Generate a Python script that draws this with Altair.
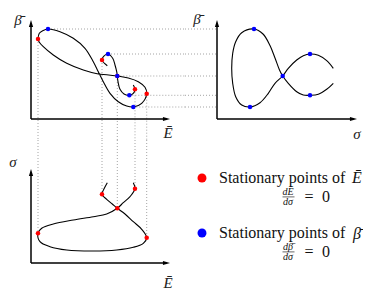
import altair as alt
import pandas as pd

# ---------------- data ----------------
# Top-left panel: E-bar (x) vs beta-bar (y); two visual strands
tl_spiral_E = [7.63, 7.1, 7.26, 7.7, 8.17, 8.4, 8.57, 8.63, 8.7, 8.9, 9.3, 9.83, 10.23, 10.4, 10.23]
tl_spiral_B = [5.33, 5.9, 6.27, 6.5, 6.07, 5.4, 4.73, 4.3, 3.73, 2.97, 2.5, 2.37, 2.57, 2.97, 3.4]
tl_loop_E = [0.7, 0.83, 1.17, 1.7, 2.9, 4.23, 5.4, 6.23, 6.73, 7.23, 7.9, 8.73, 9.57, 10.23,
             11.07, 11.57, 11.4, 10.73, 9.73, 8.63, 7.57, 6.73, 5.23, 3.57, 2.23, 1.23, 0.8, 0.7]
tl_loop_B = [8.0, 8.57, 8.83, 9.0, 8.73, 8.07, 7.07, 5.73, 4.73, 3.73, 2.57, 1.73, 1.3, 1.2,
             1.57, 2.53, 3.17, 3.73, 4.1, 4.3, 4.43, 4.5, 4.9, 5.57, 6.4, 7.23, 7.73, 8.0]
tl_red_E = [0.7, 7.1, 8.63, 10.4, 11.57]
tl_red_B = [8.0, 5.9, 4.3, 2.97, 2.53]
tl_blue_E = [1.7, 7.7, 8.63, 9.83, 10.23]
tl_blue_B = [9.0, 6.5, 4.3, 2.37, 1.2]

# Top-right panel: sigma (x) vs beta-bar (y)
tr_S = [11.63, 10.97, 10.13, 9.3, 8.63, 7.97, 7.13, 6.57, 5.8, 5.13, 4.3, 3.3, 2.47, 1.87, 1.57,
        1.47, 1.57, 1.87, 2.47, 3.7, 4.6, 5.3, 5.8, 6.25, 6.57, 7.13, 7.97, 8.63, 9.3, 10.13, 10.97, 11.63]
tr_B = [5.07, 5.83, 6.37, 6.5, 6.33, 5.9, 5.07, 4.3, 3.57, 2.57, 1.63, 1.2, 1.4, 2.23, 3.57,
        5.07, 6.57, 7.73, 8.63, 9.0, 8.5, 7.35, 6.1, 4.9, 4.3, 3.57, 2.73, 2.4, 2.37, 2.47, 2.97, 3.57]
tr_blue_S = [3.7, 9.3, 6.57, 9.3, 3.3]
tr_blue_B = [9.0, 6.5, 4.3, 2.37, 1.2]

# Bottom panel: E-bar (x) vs sigma (y)
b_E = [7.63, 7.33, 7.1, 7.57, 8.13, 8.63, 9.4, 10.23, 11.07, 11.57, 11.23, 10.23, 8.57, 6.23,
       3.57, 1.9, 0.9, 0.7, 1.07, 2.23, 4.23, 6.23, 7.57, 8.63, 9.23, 9.9, 10.4, 10.23]
b_S = [8.03, 7.47, 6.87, 6.37, 5.9, 5.47, 4.9, 4.13, 3.37, 2.53, 1.97, 1.57, 1.3, 1.2,
       1.3, 1.63, 2.13, 2.97, 3.47, 3.9, 4.3, 4.63, 4.9, 5.47, 6.03, 6.63, 7.43, 8.03]
b_red_E = [0.7, 7.1, 8.63, 10.4, 11.57]
b_red_S = [2.97, 6.87, 5.47, 7.43, 2.53]

# axis arrow tips (data units of each panel)
tl_tip_E, tl_tip_B = 13.55, 9.55
tr_tip_S, tr_tip_B = 13.65, 9.55
b_tip_E, b_tip_S = 13.55, 9.05

# ---------------- scales ----------------
E_DOM = [0, 15.4]
B_DOM = [-2.1, 10]
SX_DOM = [-3.2, 14]
SY_DOM = [0, 12.3]
sE = alt.Scale(domain=E_DOM, range=[23, 177], nice=False, zero=False)
sB = alt.Scale(domain=B_DOM, range=[132, 11], nice=False, zero=False)
sSx = alt.Scale(domain=SX_DOM, range=[177, 349], nice=False, zero=False)
sSy = alt.Scale(domain=SY_DOM, range=[255, 132], nice=False, zero=False)
sLx = alt.Scale(domain=[0, 160], range=[194, 354], nice=False, zero=False)
sLy = alt.Scale(domain=[0, 80], range=[170, 250], nice=False, zero=False)

FONT = "'Liberation Serif', 'Times New Roman', 'DejaVu Serif', serif"
RED = "#ff0000"
BLUE = "#0000ff"
GRAY = "#9a9a9a"
ARROW_R = "M1,0L-1,-0.6L-1,0.6Z"
ARROW_U = "M0,-1L0.6,1L-0.6,1Z"
BBAR = "\u03b2\u0304"
EBAR = "\u0112"
SIGMA = "\u03c3"


def X(f, s):
    return alt.X(f, type="quantitative", scale=s, axis=None)


def Y(f, s):
    return alt.Y(f, type="quantitative", scale=s, axis=None)


def curve(segs, sx, sy):
    rows = []
    for k, (xs, ys) in enumerate(segs):
        for i, (a, b) in enumerate(zip(xs, ys)):
            rows.append({"x": a, "y": b, "seg": k, "i": i})
    return alt.Chart(pd.DataFrame(rows)).mark_line(
        color="black", strokeWidth=1.1, interpolate="catmull-rom"
    ).encode(x=X("x", sx), y=Y("y", sy), detail="seg:N", order="i:Q")


def dots(xs, ys, color, sx, sy, size=20):
    return alt.Chart(pd.DataFrame({"x": xs, "y": ys})).mark_point(
        filled=True, color=color, size=size, opacity=1, strokeWidth=0
    ).encode(x=X("x", sx), y=Y("y", sy))


def axes(x0, y0, xt, yt, sx, sy):
    df = pd.DataFrame({"x": [x0, x0], "x2": [xt, x0], "y": [y0, y0], "y2": [y0, yt]})
    rules = alt.Chart(df).mark_rule(color="black", strokeWidth=1.5).encode(
        x=X("x", sx), x2="x2", y=Y("y", sy), y2="y2")
    heads_r = alt.Chart(pd.DataFrame({"x": [xt], "y": [y0]})).mark_point(
        shape=ARROW_R, filled=True, color="black", size=50, opacity=1, strokeWidth=0
    ).encode(x=X("x", sx), y=Y("y", sy))
    heads_u = alt.Chart(pd.DataFrame({"x": [x0], "y": [yt]})).mark_point(
        shape=ARROW_U, filled=True, color="black", size=50, opacity=1, strokeWidth=0
    ).encode(x=X("x", sx), y=Y("y", sy))
    return [rules, heads_r, heads_u]


def labels(xs, ys, texts, sx, sy, size=15, style="italic", align="center", color="#222222"):
    return alt.Chart(pd.DataFrame({"x": xs, "y": ys, "t": texts})).mark_text(
        font=FONT, fontSize=size, fontStyle=style, align=align, baseline="middle", color=color
    ).encode(x=X("x", sx), y=Y("y", sy), text="t:N")


dash = dict(color=GRAY, strokeWidth=0.9, strokeDash=[1, 2])

layers = []

# dotted guide lines
hl_tl = pd.DataFrame({"x": tl_blue_E, "x2": [E_DOM[1]] * 5, "y": tl_blue_B})
layers.append(alt.Chart(hl_tl).mark_rule(**dash).encode(x=X("x", sE), x2="x2", y=Y("y", sB)))
hl_tr = pd.DataFrame({"x": [SX_DOM[0]] * 5, "x2": [0] * 5, "y": tr_blue_B})
layers.append(alt.Chart(hl_tr).mark_rule(**dash).encode(x=X("x", sSx), x2="x2", y=Y("y", sB)))
vl_tl = pd.DataFrame({"x": tl_red_E, "y": tl_red_B, "y2": [B_DOM[0]] * 5})
layers.append(alt.Chart(vl_tl).mark_rule(**dash).encode(x=X("x", sE), y=Y("y", sB), y2="y2"))
vl_b = pd.DataFrame({"x": b_red_E, "y": [SY_DOM[1]] * 5, "y2": b_red_S})
layers.append(alt.Chart(vl_b).mark_rule(**dash).encode(x=X("x", sE), y=Y("y", sSy), y2="y2"))

# axes
layers += axes(0, 0, tl_tip_E, tl_tip_B, sE, sB)
layers += axes(0, 0, tr_tip_S, tr_tip_B, sSx, sB)
layers += axes(0, 0, b_tip_E, b_tip_S, sE, sSy)

# curves
layers.append(curve([(tl_spiral_E, tl_spiral_B), (tl_loop_E, tl_loop_B)], sE, sB))
layers.append(curve([(tr_S, tr_B)], sSx, sB))
layers.append(curve([(b_E, b_S)], sE, sSy))

# stationary points
layers.append(dots(tl_red_E, tl_red_B, RED, sE, sB))
layers.append(dots(tl_blue_E, tl_blue_B, BLUE, sE, sB))
layers.append(dots(tr_blue_S, tr_blue_B, BLUE, sSx, sB))
layers.append(dots(b_red_E, b_red_S, RED, sE, sSy))

# axis titles
layers.append(labels([-1.3, 13.7], [9.95, -1.35], [BBAR, EBAR], sE, sB))
layers.append(labels([-2.0, 14.0], [10.0, -1.5], [BBAR, SIGMA], sSx, sB))
layers.append(labels([-1.8, 13.7], [10.1, -1.95], [SIGMA, EBAR], sE, sSy))

# legend
layers.append(dots([0], [0], RED, sLx, sLy, size=80))
layers.append(dots([0], [55], BLUE, sLx, sLy, size=80))
layers.append(labels([17, 17], [0, 55], ["Stationary points of", "Stationary points of"],
                     sLx, sLy, size=16, style="normal", align="left", color="#111111"))
layers.append(labels([150, 151], [0, 55.5], [EBAR, BBAR], sLx, sLy, size=16, align="left",
                     color="#111111"))
layers.append(labels([86, 86, 86, 86], [14, 23.8, 68.6, 78.6],
                     ["d" + EBAR, "d" + SIGMA, "d" + BBAR, "d" + SIGMA], sLx, sLy, size=10,
                     color="#111111"))
layers.append(labels([107, 124, 107, 124], [18.9, 18.9, 73.9, 73.9], ["=", "0", "=", "0"],
                     sLx, sLy, size=16, style="normal", color="#111111"))
bars = pd.DataFrame({"x": [80.5, 80.5], "x2": [92.5, 92.5], "y": [18.9, 73.9]})
layers.append(alt.Chart(bars).mark_rule(color="black", strokeWidth=0.6).encode(
    x=X("x", sLx), x2="x2", y=Y("y", sLy)))

chart = alt.layer(*layers).resolve_scale(x="independent", y="independent").properties(
    width=355, height=285, padding=0, autosize="none"
).configure_view(stroke=None)

chart.save("out.html", embed_options={"renderer": "svg", "actions": False})
